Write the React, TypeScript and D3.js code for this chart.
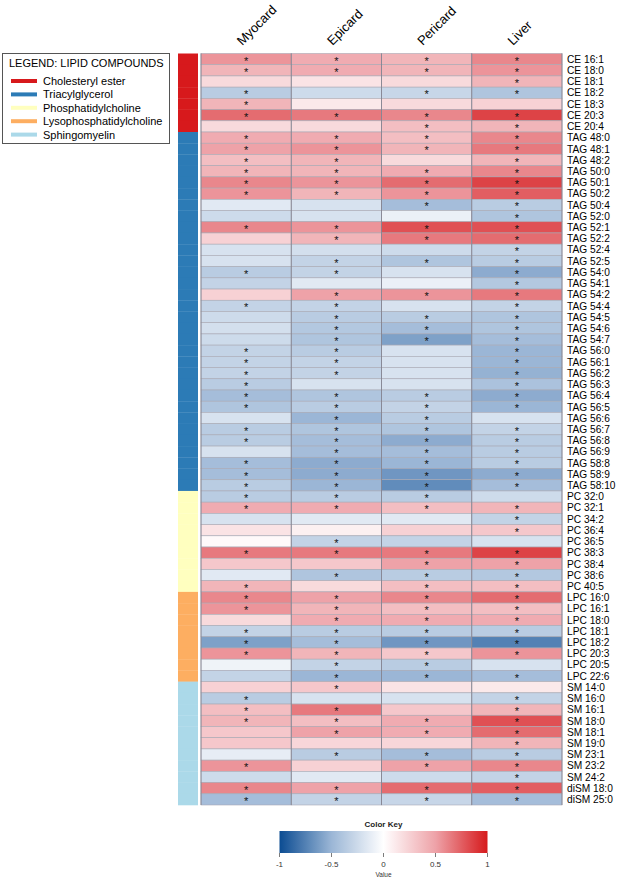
import React from 'react';
import * as d3 from 'd3';

const columns = ['Myocard', 'Epicard', 'Pericard', 'Liver'];

const rowLabels = [
  'CE 16:1', 'CE 18:0', 'CE 18:1', 'CE 18:2', 'CE 18:3', 'CE 20:3', 'CE 20:4',
  'TAG 48:0', 'TAG 48:1', 'TAG 48:2', 'TAG 50:0', 'TAG 50:1', 'TAG 50:2', 'TAG 50:4',
  'TAG 52:0', 'TAG 52:1', 'TAG 52:2', 'TAG 52:4', 'TAG 52:5', 'TAG 54:0', 'TAG 54:1',
  'TAG 54:2', 'TAG 54:4', 'TAG 54:5', 'TAG 54:6', 'TAG 54:7', 'TAG 56:0', 'TAG 56:1',
  'TAG 56:2', 'TAG 56:3', 'TAG 56:4', 'TAG 56:5', 'TAG 56:6', 'TAG 56:7', 'TAG 56:8',
  'TAG 56:9', 'TAG 58:8', 'TAG 58:9', 'TAG 58:10',
  'PC 32:0', 'PC 32:1', 'PC 34:2', 'PC 36:4', 'PC 36:5', 'PC 38:3', 'PC 38:4', 'PC 38:6', 'PC 40:5',
  'LPC 16:0', 'LPC 16:1', 'LPC 18:0', 'LPC 18:1', 'LPC 18:2', 'LPC 20:3', 'LPC 20:5', 'LPC 22:6',
  'SM 14:0', 'SM 16:0', 'SM 16:1', 'SM 18:0', 'SM 18:1', 'SM 19:0', 'SM 23:1', 'SM 23:2',
  'SM 24:2', 'diSM 18:0', 'diSM 25:0',
];

// correlation values per column, same order as rowLabels
const myocard = [
  0.55, 0.4, 0.2, -0.35, 0.4, 0.7, 0.2,
  0.45, 0.5, 0.35, 0.4, 0.6, 0.55, -0.15, -0.25, 0.6, 0.25, -0.2, -0.2, -0.35, -0.3,
  0.25, -0.3, -0.25, -0.22, -0.25, -0.3, -0.3, -0.3, -0.35, -0.45, -0.4, -0.2, -0.35, -0.35,
  -0.2, -0.45, -0.45, -0.35,
  -0.35, 0.45, -0.2, 0.15, 0.03, 0.65, 0.3, -0.15, 0.4,
  0.6, 0.55, 0.2, -0.3, -0.6, 0.55, -0.08, -0.3,
  0.25, -0.35, 0.35, 0.4, 0.3, 0.3, -0.12, 0.55, -0.25, 0.6, -0.45,
];
const epicard = [
  0.45, 0.45, 0.15, -0.25, 0.12, 0.65, 0.2,
  0.45, 0.55, 0.4, 0.4, 0.55, 0.4, -0.2, -0.2, 0.55, 0.4, -0.22, -0.3, -0.3, -0.15,
  0.5, -0.3, -0.35, -0.38, -0.4, -0.35, -0.3, -0.3, -0.2, -0.4, -0.35, -0.5, -0.4, -0.45,
  -0.45, -0.55, -0.55, -0.5,
  -0.35, 0.45, -0.15, 0.08, -0.3, 0.65, 0.3, -0.4, 0.2,
  0.5, 0.4, 0.45, -0.35, -0.45, 0.4, -0.3, -0.5,
  0.3, -0.2, 0.65, 0.35, 0.5, 0.22, -0.35, 0.25, -0.15, 0.5, -0.3,
];
const pericard = [
  0.4, 0.4, 0.2, -0.28, 0.2, 0.6, 0.35,
  0.35, 0.4, 0.2, 0.45, 0.7, 0.55, -0.45, -0.1, 0.8, 0.65, -0.25, -0.4, -0.2, -0.1,
  0.55, -0.2, -0.35, -0.45, -0.6, -0.2, -0.2, -0.2, -0.2, -0.35, -0.3, -0.35, -0.4, -0.55,
  -0.45, -0.5, -0.65, -0.7,
  -0.35, 0.35, -0.15, 0.25, -0.3, 0.65, 0.5, -0.35, 0.35,
  0.6, 0.35, 0.45, -0.35, -0.65, 0.3, -0.35, -0.5,
  0.15, -0.2, 0.3, 0.45, 0.45, 0.22, -0.45, 0.5, -0.25, 0.7, -0.28,
];
const liver = [
  0.6, 0.55, 0.4, -0.4, 0.25, 0.85, 0.4,
  0.6, 0.65, 0.4, 0.6, 0.85, 0.75, -0.35, -0.4, 0.8, 0.7, -0.3, -0.35, -0.55, -0.38,
  0.65, -0.3, -0.4, -0.4, -0.45, -0.5, -0.5, -0.52, -0.42, -0.55, -0.5, -0.2, -0.3, -0.35,
  -0.35, -0.35, -0.55, -0.45,
  -0.25, 0.4, -0.3, 0.3, -0.2, 0.85, 0.5, -0.38, 0.35,
  0.7, 0.35, 0.45, -0.35, -0.75, 0.55, -0.2, -0.45,
  0.12, -0.3, 0.4, 0.8, 0.7, 0.4, -0.35, 0.6, -0.3, 0.75, -0.45,
];

// significance marks (1 = star)
const starsMyocard = [
  1, 1, 0, 1, 1, 1, 0,
  1, 1, 1, 1, 1, 1, 0, 0, 1, 0, 0, 0, 1, 0,
  0, 1, 0, 0, 0, 1, 1, 1, 1, 1, 1, 0, 1, 1,
  0, 1, 1, 1,
  1, 1, 0, 0, 0, 1, 0, 0, 1,
  1, 1, 0, 1, 1, 1, 0, 0,
  0, 1, 1, 1, 0, 0, 0, 1, 0, 1, 1,
];
const starsEpicard = [
  1, 1, 0, 0, 0, 1, 0,
  1, 1, 1, 1, 1, 1, 0, 0, 1, 1, 0, 1, 1, 0,
  1, 1, 1, 1, 1, 1, 1, 1, 0, 1, 1, 1, 1, 1,
  1, 1, 1, 1,
  1, 1, 0, 0, 1, 1, 0, 1, 0,
  1, 1, 1, 1, 1, 1, 1, 1,
  1, 0, 1, 1, 1, 0, 1, 0, 0, 1, 1,
];
const starsPericard = [
  1, 1, 0, 1, 0, 1, 1,
  1, 1, 0, 1, 1, 1, 1, 0, 1, 1, 0, 1, 0, 0,
  1, 0, 1, 1, 1, 0, 0, 0, 0, 1, 1, 1, 1, 1,
  1, 1, 1, 1,
  1, 1, 0, 0, 0, 1, 1, 1, 1,
  1, 1, 1, 1, 1, 1, 1, 1,
  0, 0, 0, 1, 1, 0, 1, 1, 0, 1, 1,
];
const starsLiver = [
  1, 1, 1, 1, 0, 1, 1,
  1, 1, 1, 1, 1, 1, 1, 1, 1, 1, 1, 1, 1, 1,
  1, 1, 1, 1, 1, 1, 1, 1, 1, 1, 1, 0, 1, 1,
  1, 1, 1, 1,
  0, 1, 1, 1, 0, 1, 1, 1, 1,
  1, 1, 1, 1, 1, 1, 0, 1,
  0, 1, 1, 1, 1, 1, 1, 1, 1, 1, 1,
];

const groupNames = ['Cholesteryl ester', 'Triacylglycerol', 'Phosphatidylcholine', 'Lysophosphatidylcholine', 'Sphingomyelin'];
const groupPrefixes = ['CE', 'TAG', 'PC', 'LPC', 'SM'];
const groupColors = ['#d7191c', '#2c7bb6', '#ffffbf', '#fdae61', '#abd9e9'];

const keyTicks = [-1, -0.5, 0, 0.5, 1];

const values = [myocard, epicard, pericard, liver];
const stars = [starsMyocard, starsEpicard, starsPericard, starsLiver];

const groupOf = (label: string) => {
  const p = label.split(' ')[0].replace('di', '');
  return groupPrefixes.indexOf(p);
};

const W = 625;
const H = 882;
const FONT = '"Liberation Sans", Arial, Helvetica, sans-serif';

export default function App() {
  const x = d3.scaleBand<string>().domain(columns).range([201, 562]);
  const y = d3.scaleBand<string>().domain(rowLabels).range([53.5, 805]);
  const color = d3
    .scaleLinear<string>()
    .domain([-1, -0.5, 0, 0.5, 1])
    .range(['#0b4c92', '#9bb6d6', '#ffffff', '#eea2a8', '#d61a1c'])
    .interpolate(d3.interpolateRgb);

  const keyX = d3.scaleLinear().domain([-1, 1]).range([279.5, 487.5]);
  const keyStops = d3.range(0, 1.0001, 0.05);

  const rh = y.bandwidth();

  return (
    <div style={{ position: 'absolute', left: 0, top: 0 }}>
      <svg width={W} height={H} style={{ display: 'block', fontFamily: FONT }}>
        <rect width={W} height={H} fill="#fff" />
        <defs>
          <linearGradient id="keygrad" x1="0" x2="1" y1="0" y2="0">
            {keyStops.map((t) => (
              <stop key={t} offset={t} stopColor={color(-1 + 2 * t)} />
            ))}
          </linearGradient>
        </defs>

        {/* column headers */}
        {columns.map((c) => {
          const cx = x(c)! + x.bandwidth() / 2 - 4;
          return (
            <text key={c} transform={`translate(${cx},46) rotate(-45)`} fontSize={13} fill="#000">
              {c}
            </text>
          );
        })}

        {/* group side bar */}
        {rowLabels.map((r) => (
          <rect key={'g' + r} x={178} y={y(r)!} width={20} height={rh + 0.3} fill={groupColors[groupOf(r)]} />
        ))}

        {/* cells */}
        {columns.map((c, ci) =>
          rowLabels.map((r, ri) => (
            <rect
              key={c + r}
              x={x(c)!}
              y={y(r)!}
              width={x.bandwidth()}
              height={rh}
              fill={color(values[ci][ri])}
              stroke="#a9a9b4"
              strokeWidth={0.6}
            />
          ))
        )}
        {/* column separators */}
        {[...columns.map((c) => x(c)!), 562].map((v, i) => (
          <line key={'cs' + i} x1={v} x2={v} y1={53.5} y2={805} stroke="#7d7d8c" strokeWidth={0.8} />
        ))}

        {/* stars */}
        {columns.map((c, ci) =>
          rowLabels.map((r, ri) =>
            stars[ci][ri] ? (
              <text
                key={'s' + c + r}
                x={x(c)! + x.bandwidth() / 2}
                y={y(r)! + rh / 2 + 5.5}
                textAnchor="middle"
                fontSize={11}
                fill="#111"
              >
                *
              </text>
            ) : null
          )
        )}

        {/* row labels */}
        {rowLabels.map((r) => (
          <text key={'l' + r} x={567} y={y(r)! + rh / 2 + 3.7} fontSize={10.2} fill="#000">
            {r}
          </text>
        ))}

        {/* legend */}
        <rect x={2.5} y={53.5} width={167} height={90} fill="#fff" stroke="#555" strokeWidth={1} />
        <text x={9} y={67} fontSize={11} fill="#000">
          LEGEND: LIPID COMPOUNDS
        </text>
        {groupNames.map((g, i) => (
          <g key={g} transform={`translate(0,${81 + i * 13.4})`}>
            <line x1={11} x2={37} y1={0} y2={0} stroke={groupColors[i]} strokeWidth={4} />
            <text x={43} y={4} fontSize={11} fill="#000">
              {g}
            </text>
          </g>
        ))}

        {/* color key */}
        <text x={383.5} y={826.5} textAnchor="middle" fontSize={8} fontWeight="bold" fill="#222">
          Color Key
        </text>
        <rect x={279.5} y={831} width={208} height={22} fill="url(#keygrad)" />
        {keyTicks.map((t) => (
          <g key={'k' + t}>
            <line x1={keyX(t)} x2={keyX(t)} y1={853} y2={857} stroke="#444" strokeWidth={0.7} />
            <text x={keyX(t)} y={867} textAnchor="middle" fontSize={8} fill="#333">
              {t}
            </text>
          </g>
        ))}
        <text x={383.5} y={877} textAnchor="middle" fontSize={6.5} fill="#333">
          Value
        </text>
      </svg>
    </div>
  );
}
